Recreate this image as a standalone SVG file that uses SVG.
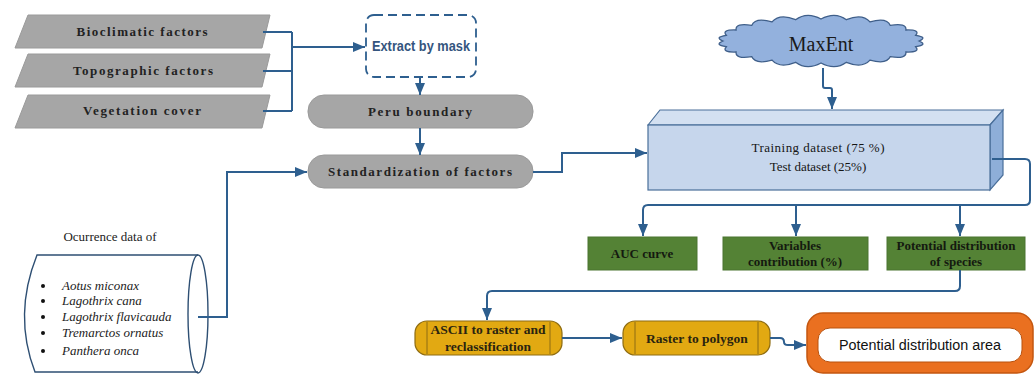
<svg xmlns="http://www.w3.org/2000/svg" width="1036" height="374" viewBox="0 0 1036 374">
<defs>
<marker id="arr" markerWidth="12" markerHeight="10" refX="12" refY="5" orient="auto" markerUnits="userSpaceOnUse">
<path d="M0,0 L12,5 L0,10 z" fill="#2e5f8f"/>
</marker>
<style>
.conn{fill:none;stroke:#2e5f8f;stroke-width:2;}
.gray{fill:#a6a6a6;stroke:#9a9a9a;stroke-width:1;}
.gt{font-family:"Liberation Serif",serif;font-weight:bold;font-size:13px;fill:#222;text-anchor:middle;}
.green{fill:#548235;stroke:#4a7530;stroke-width:1;}
.grt{font-family:"Liberation Serif",serif;font-size:13px;fill:#151515;text-anchor:middle;}
.gbt{font-family:"Liberation Serif",serif;font-weight:bold;font-size:13px;fill:#141a10;text-anchor:middle;}
.yel{fill:#e2a912;stroke:#8e6c12;stroke-width:1.2;}
.yl{stroke:#8e6c12;stroke-width:1;}
.yt{font-family:"Liberation Serif",serif;font-weight:bold;font-size:13.5px;fill:#2a2410;text-anchor:middle;}
.sp{font-family:"Liberation Serif",serif;font-style:italic;font-size:13px;fill:#222;}
.bl{font-family:"Liberation Serif",serif;font-size:13px;fill:#222;}
</style>
</defs>
<rect width="1036" height="374" fill="#ffffff"/>

<g id="bioclimatic">
<polygon class="gray" points="28,15 270,15 262,48 15,48"/>
<text class="gt" x="142" y="36" textLength="131" lengthAdjust="spacing">Bioclimatic factors</text>
</g>
<g id="topographic">
<polygon class="gray" points="28,54 270,54 262,87 15,87"/>
<text class="gt" x="143" y="75" textLength="140" lengthAdjust="spacing">Topographic factors</text>
</g>
<g id="vegetation">
<polygon class="gray" points="28,95 270,95 262,128 15,128"/>
<text class="gt" x="142" y="115" textLength="118" lengthAdjust="spacing">Vegetation cover</text>
</g>

<g id="extract">
<rect x="366" y="15" width="110" height="62" rx="8" fill="#ffffff" stroke="#2e5f8f" stroke-width="1.8" stroke-dasharray="9,5"/>
<text x="421" y="51" font-family="Liberation Sans,Arial,sans-serif" font-weight="bold" font-size="14" fill="#34557e" text-anchor="middle" textLength="98" lengthAdjust="spacingAndGlyphs">Extract by mask</text>
</g>

<g id="peru">
<rect class="gray" x="308" y="95" width="225" height="33" rx="16"/>
<text class="gt" x="420" y="116" textLength="104" lengthAdjust="spacing">Peru boundary</text>
</g>

<g id="standardization">
<rect class="gray" x="308" y="155" width="225" height="33" rx="16"/>
<text class="gt" x="420" y="176" textLength="184" lengthAdjust="spacing">Standardization of factors</text>
</g>

<g id="occurrence">
<text class="bl" x="110" y="241" text-anchor="middle" font-size="13.5">Ocurrence data of</text>
<path d="M198,255 H37 Q13,315 35,372 H198" fill="none" stroke="#2e4f73" stroke-width="1.4"/>
<ellipse cx="198" cy="314" rx="10" ry="59" fill="none" stroke="#2e4f73" stroke-width="1.4"/>
<g fill="#111">
<circle cx="43" cy="286" r="2"/>
<circle cx="43" cy="301" r="2"/>
<circle cx="43" cy="317" r="2"/>
<circle cx="43" cy="333" r="2"/>
<circle cx="43" cy="351" r="2"/>
</g>
<text class="sp" x="62" y="290">Aotus miconax</text>
<text class="sp" x="62" y="305">Lagothrix cana</text>
<text class="sp" x="62" y="321">Lagothrix flavicauda</text>
<text class="sp" x="62" y="337">Tremarctos ornatus</text>
<text class="sp" x="62" y="355">Panthera onca</text>
</g>

<g id="maxent">
<path d="M919,41 Q928.1,44.9 915.7,46.7 Q920.8,52.5 905.9,52 Q906.7,59.3 890.3,56.6 Q886.8,64.8 870,60.1 Q862.3,68.7 846.4,62.3 Q835.1,70.7 821,63 Q806.9,70.7 795.6,62.3 Q779.7,68.7 772,60.1 Q755.2,64.8 751.7,56.6 Q735.3,59.3 736.1,52 Q721.2,52.5 726.3,46.7 Q713.9,44.9 723,41 Q713.9,37.1 726.3,35.3 Q721.2,29.5 736.1,30 Q735.3,22.7 751.7,25.4 Q755.2,17.2 772,21.9 Q779.7,13.3 795.6,19.7 Q806.9,11.3 821,19 Q835.1,11.3 846.4,19.7 Q862.3,13.3 870,21.9 Q886.8,17.2 890.3,25.4 Q906.7,22.7 905.9,30 Q920.8,29.5 915.7,35.3 Q928.1,37.1 919,41 Z" fill="#93b1dd" stroke="#3f5f8a" stroke-width="1.3"/>
<text x="821" y="51" font-family="Liberation Serif,serif" font-size="20" fill="#1a1a1a" text-anchor="middle">MaxEnt</text>
</g>

<g id="dataset">
<polygon points="648,125 660,110 1003,110 990,125" fill="#d3e0f1" stroke="#4a6f9a" stroke-width="1.2"/>
<polygon points="990,125 1003,110 1003,175 990,190" fill="#8eaed8" stroke="#4a6f9a" stroke-width="1.2"/>
<rect x="648" y="125" width="342" height="65" fill="#c6d6ec" stroke="#4a6f9a" stroke-width="1.2"/>
<text class="grt" x="818" y="152" fill="#222" textLength="133" lengthAdjust="spacing">Training dataset (75 %)</text>
<text class="grt" x="818" y="171" fill="#222">Test dataset (25%)</text>
</g>

<g id="auc">
<rect class="green" x="588" y="237" width="109" height="33"/>
<text class="gbt" x="642" y="258">AUC curve</text>
</g>
<g id="variables">
<rect class="green" x="723" y="237" width="145" height="33"/>
<text class="gbt" x="795" y="250">Variables</text>
<text class="gbt" x="795" y="266">contribution (%)</text>
</g>
<g id="potential">
<rect class="green" x="887" y="237" width="138" height="33"/>
<text class="gbt" x="956" y="250">Potential distribution</text>
<text class="gbt" x="956" y="266">of species</text>
</g>

<g id="ascii">
<rect class="yel" x="415" y="321" width="147" height="34" rx="12"/>
<line class="yl" x1="427" y1="322" x2="427" y2="354"/>
<line class="yl" x1="550" y1="322" x2="550" y2="354"/>
<text class="yt" x="488" y="334">ASCII to raster and</text>
<text class="yt" x="488" y="351">reclassification</text>
</g>
<g id="raster">
<rect class="yel" x="623" y="321" width="147" height="34" rx="12"/>
<line class="yl" x1="635" y1="322" x2="635" y2="354"/>
<line class="yl" x1="758" y1="322" x2="758" y2="354"/>
<text class="yt" x="697" y="343">Raster to polygon</text>
</g>

<g id="area">
<rect x="807" y="313" width="226" height="60" rx="16" fill="#ea7020" stroke="#c4560f" stroke-width="1.5"/>
<rect x="818" y="328" width="204" height="34" rx="12" fill="#ffffff" stroke="#b8520f" stroke-width="1"/>
<text x="920" y="350" font-family="Liberation Sans,Arial,sans-serif" font-size="14" fill="#111" text-anchor="middle" textLength="162" lengthAdjust="spacingAndGlyphs">Potential distribution area</text>
</g>

<g id="connectors" class="conn">
<path class="conn" d="M263,32 H292 M263,71 H292 M263,111 H292 M292,32 V111"/>
<path class="conn" d="M292,47 H365" marker-end="url(#arr)"/>
<path class="conn" d="M420,77 V95" marker-end="url(#arr)"/>
<path class="conn" d="M420,128 V155" marker-end="url(#arr)"/>
<path class="conn" d="M198,317 H227 V172 H307" marker-end="url(#arr)"/>
<path class="conn" d="M533,172 H562 V153 H647" marker-end="url(#arr)"/>
<path class="conn" d="M823,68 V86 Q823,88 825,88 H830 Q832,88 832,90 V109" marker-end="url(#arr)"/>
<path class="conn" d="M992,159 H1025 Q1030,159 1030,164 V200 Q1030,205 1025,205 H648 Q643,205 643,210 V236" marker-end="url(#arr)"/>
<path class="conn" d="M796,205 V236" marker-end="url(#arr)"/>
<path class="conn" d="M960,205 V236" marker-end="url(#arr)"/>
<path class="conn" d="M960,270 V286 Q960,291 955,291 H492 Q487,291 487,296 V320" marker-end="url(#arr)"/>
<path class="conn" d="M562,338 H622" marker-end="url(#arr)"/>
<path class="conn" d="M770,338 H780 Q784,338 784,342 Q784,345 788,345 H806" marker-end="url(#arr)"/>
</g>
</svg>
